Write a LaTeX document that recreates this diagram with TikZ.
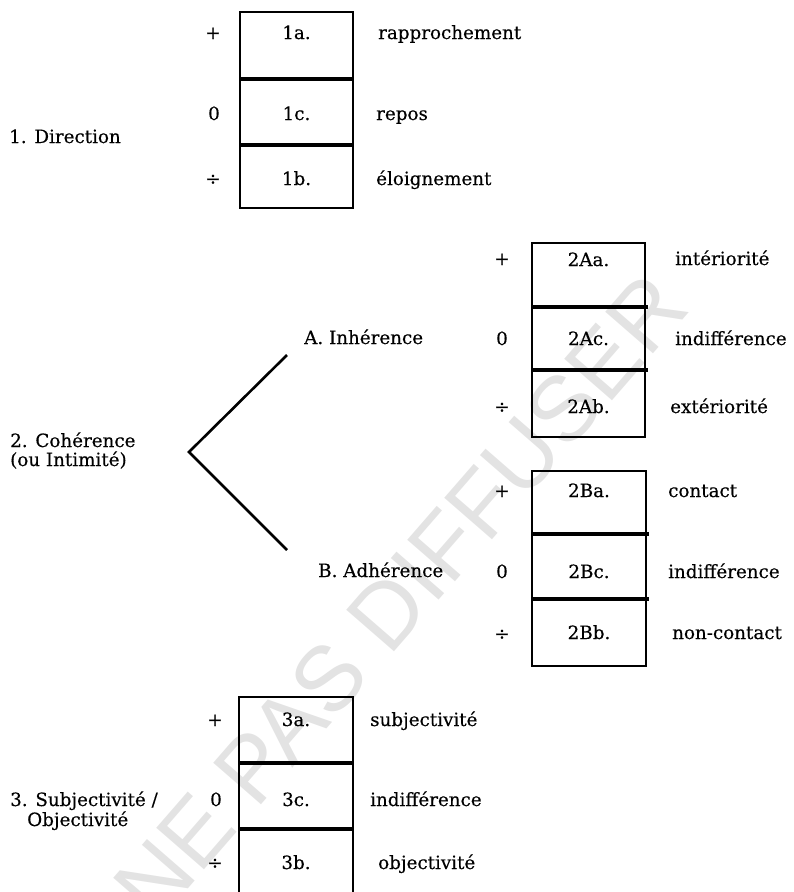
\documentclass[tikz,border=0pt]{standalone}
\usepackage{fontspec}
\setmainfont{DejaVu Serif}[FakeBold=0.35]
\newfontfamily\markfont{Liberation Sans}
\begin{document}
\begin{tikzpicture}[x=1pt,y=-1pt,
  txt/.style={font=\fontsize{18.3}{20}\selectfont, inner sep=0pt},
  word/.style={txt, anchor=base west},
  sign/.style={txt, anchor=base},
  code/.style={txt, anchor=base},
  frame/.style={line width=2.3pt, line join=miter},
  divider/.style={line width=3.2pt},
  branch/.style={line width=2.6pt, line join=miter},
  wmark/.style={font=\markfont\fontsize{92}{92}\selectfont, text=black!11, inner sep=0pt}
]
\useasboundingbox (0,0) rectangle (793,892);

% watermark behind everything
\node[wmark, rotate=49] (mark) at (400,597) {NE PAS DIFFUSER};

% ---------- 1. Direction ----------
\node[word] (dir) at (9,143) {1. Direction};
\draw[frame] (240,12) rectangle (353,208);
\draw[divider] (240,79) -- (353,79);
\draw[divider] (240,145) -- (353,145);
\node[sign] (s1a) at (213,39) {+};
\node[code] (c1a) at (296.5,39) {1a.};
\node[word] (w1a) at (378,39) {rapprochement};
\node[sign] (s1c) at (214,120) {0};
\node[code] (c1c) at (296.5,120) {1c.};
\node[word] (w1c) at (376,120) {repos};
\node[sign] (s1b) at (213,185) {÷};
\node[code] (c1b) at (296.5,185) {1b.};
\node[word] (w1b) at (376,185) {éloignement};

% ---------- 2. Cohérence ----------
\node[word] (coh1) at (10,447) {2. Cohérence};
\node[word] (coh2) at (10,466) {(ou Intimité)};
\coordinate (apex) at (189,452);
\coordinate (upA) at (287,355);
\coordinate (upB) at (287,550);
\draw[branch] (upA) -- (apex) -- (upB);
\node[word] (inh) at (304,344) {A. Inhérence};
\node[word] (adh) at (318,577) {B. Adhérence};

% box 2A
\draw[frame] (532,243) rectangle (645,437);
\draw[divider] (532,307) -- (648,307);
\draw[divider] (532,370) -- (648,370);
\node[sign] (s2Aa) at (502,265) {+};
\node[code] (c2Aa) at (588.5,266) {2Aa.};
\node[word] (w2Aa) at (675,265) {intériorité};
\node[sign] (s2Ac) at (502,345) {0};
\node[code] (c2Ac) at (588.5,345) {2Ac.};
\node[word] (w2Ac) at (675,345) {indifférence};
\node[sign] (s2Ab) at (502,413) {÷};
\node[code] (c2Ab) at (588.5,413) {2Ab.};
\node[word] (w2Ab) at (670,413) {extériorité};

% box 2B
\draw[frame] (532,471) rectangle (646,666);
\draw[divider] (532,534) -- (649,534);
\draw[divider] (532,599) -- (649,599);
\node[sign] (s2Ba) at (502,497) {+};
\node[code] (c2Ba) at (589,497) {2Ba.};
\node[word] (w2Ba) at (668,497) {contact};
\node[sign] (s2Bc) at (502,578) {0};
\node[code] (c2Bc) at (589,578) {2Bc.};
\node[word] (w2Bc) at (668,578) {indifférence};
\node[sign] (s2Bb) at (502,640) {÷};
\node[code] (c2Bb) at (589,639) {2Bb.};
\node[word] (w2Bb) at (672,639) {non-contact};

% ---------- 3. Subjectivité / Objectivité ----------
\node[word] (sub1) at (10,806) {3. Subjectivité /};
\node[word] (sub2) at (27,826) {Objectivité};
\draw[frame] (239,900) -- (239,697) -- (353,697) -- (353,900);
\draw[divider] (239,763) -- (353,763);
\draw[divider] (239,829) -- (353,829);
\node[sign] (s3a) at (215,726) {+};
\node[code] (c3a) at (296,726) {3a.};
\node[word] (w3a) at (370,726) {subjectivité};
\node[sign] (s3c) at (216,806) {0};
\node[code] (c3c) at (296,806) {3c.};
\node[word] (w3c) at (370,806) {indifférence};
\node[sign] (s3b) at (215,869) {÷};
\node[code] (c3b) at (296,869) {3b.};
\node[word] (w3b) at (378,869) {objectivité};
\end{tikzpicture}
\end{document}
